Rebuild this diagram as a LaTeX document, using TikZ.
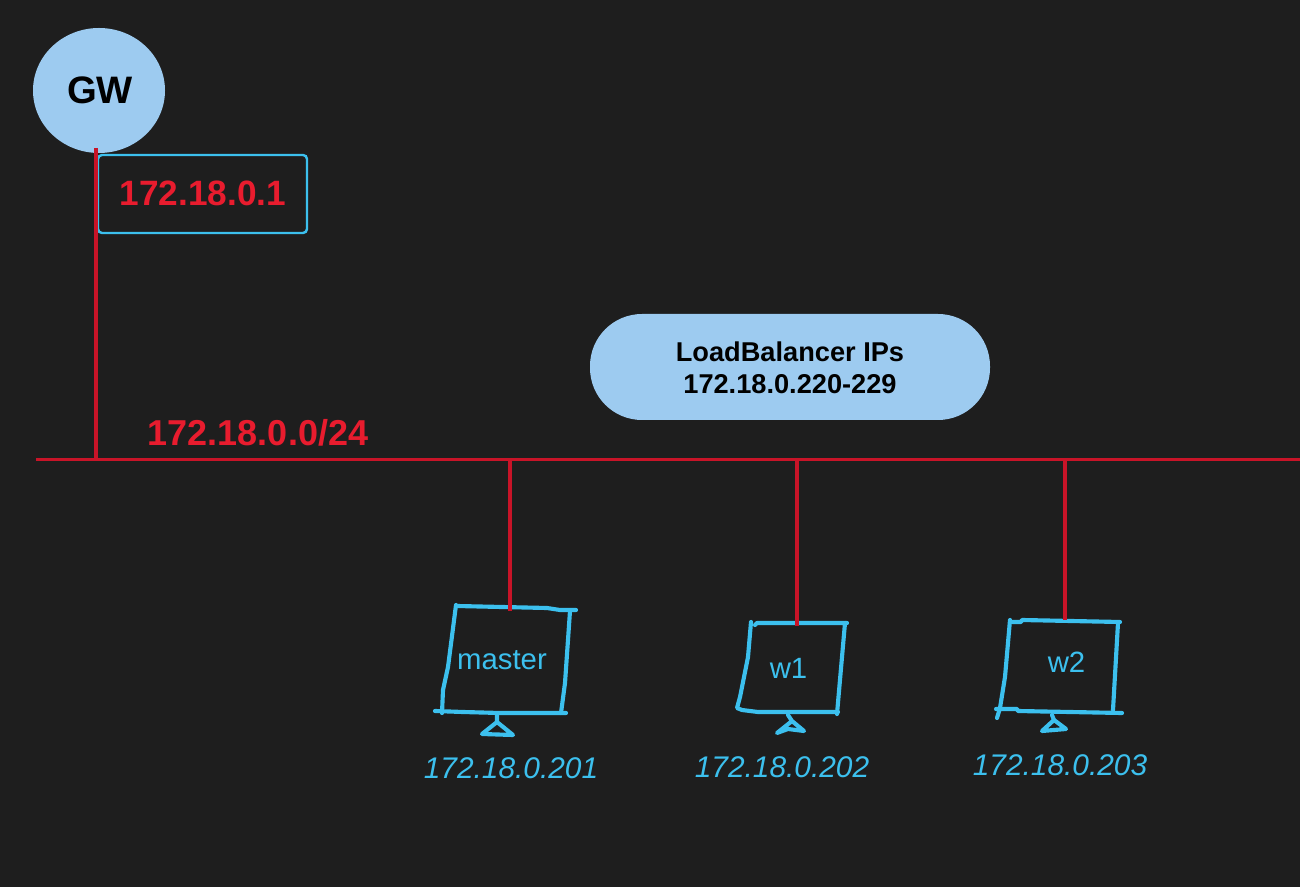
\documentclass[tikz,border=0pt]{standalone}
\usepackage{fontspec}
\setmainfont{Liberation Sans}
\usetikzlibrary{shapes.geometric}
\definecolor{bgc}{HTML}{1E1E1E}
\definecolor{netred}{HTML}{C81428}
\definecolor{txtred}{HTML}{E81C2E}
\definecolor{sky}{HTML}{3CC0EE}
\definecolor{pale}{HTML}{9DCBF0}
\tikzset{
  wire/.style={draw=netred,line width=2.1pt},
  drop/.style={draw=netred,line width=2.7pt},
  sketch/.style={draw=sky,line width=3.1pt,line cap=round,line join=round},
  pcname/.style={text=sky,font=\fontsize{22}{26}\selectfont,anchor=base,inner sep=0pt},
  ipname/.style={text=sky,font=\fontsize{22.4}{26}\selectfont\itshape,anchor=base,inner sep=0pt},
  redlabel/.style={text=txtred,font=\fontsize{27}{32}\selectfont\bfseries,anchor=base,inner sep=0pt},
}
\begin{document}
\begin{tikzpicture}[x=0.75pt,y=-0.75pt]
\useasboundingbox (0,0) rectangle (1300,887);
\fill[bgc] (0,0) rectangle (1300,887);
% gateway
\node[ellipse,fill=pale,minimum width=99pt,minimum height=93.75pt,inner sep=0pt] (gw) at (99,90.5) {};
\node[anchor=base,inner sep=0pt,font=\fontsize{28.7}{34}\selectfont\bfseries,text=black] (gwt) at (100,104) {GW};
% address box
\draw[draw=sky,line width=1.8pt,rounded corners=3pt] (98,155) rectangle (307,233);
\node[redlabel,font=\fontsize{26.4}{32}\selectfont\bfseries] (gwip) at (203,206) {172.18.0.1};
% load balancer pill
\node[fill=pale,rounded corners=39pt,minimum width=300pt,minimum height=79.5pt,inner sep=0pt] (lb) at (790,367) {};
\node[align=center,inner sep=0pt,text=black,font=\fontsize{20.4}{23.6}\selectfont\bfseries] (lbt) at (790,368) {LoadBalancer IPs\\172.18.0.220-229};
% network
\node[redlabel] (net) at (258,446) {172.18.0.0/24};
\coordinate (busL) at (36,459.5);
\coordinate (busR) at (1300,459.5);
\coordinate (tapG) at (96,459.5);
\coordinate (tapM) at (510,459.5);
\coordinate (tap1) at (797,459.5);
\coordinate (tap2) at (1065,459.5);
\coordinate (gwDrop) at (96,148);
\coordinate (mTop) at (510,611);
\coordinate (aTop) at (797,626);
\coordinate (bTop) at (1065,620);
% master monitor
\draw[sketch] (457,606) -- (547,608) -- (560,610) -- (576,610);
\draw[sketch] (456,605) -- (448,667) -- (443,690) -- (442,713);
\draw[sketch] (570,611) -- (565,683) -- (561,713);
\draw[sketch] (435,711) -- (463,712) -- (500,713) -- (566,713);
\draw[sketch] (497,714) -- (497,722) -- (482,734) -- (513,735) -- (497,722);
% w1 monitor
\draw[sketch] (755,625) -- (757,623) -- (847,623);
\draw[sketch] (751,622) -- (748,657) -- (740,697) -- (737,708) -- (742,710) -- (758,712) -- (838,712);
\draw[sketch] (845,623) -- (842,657) -- (837,714);
\draw[sketch] (788,715) -- (792,721) -- (777,733) -- (788,729) -- (804,731) -- (792,721);
% w2 monitor
\draw[sketch] (1012,622) -- (1021,622) -- (1022,620) -- (1120,622);
\draw[sketch] (1010,620) -- (1005,677) -- (1000,708) -- (997,718);
\draw[sketch] (1118,623) -- (1113,710);
\draw[sketch] (996,709) -- (1017,709) -- (1018,711) -- (1122,713);
\draw[sketch] (1052,715) -- (1054,720) -- (1042,731) -- (1066,729) -- (1054,720);
% wires
\draw[wire] (busL) -- (busR);
\draw[drop] (gwDrop) -- (tapG);
\draw[drop] (tapM) -- (mTop);
\draw[drop] (tap1) -- (aTop);
\draw[drop] (tap2) -- (bTop);
% labels
\node[pcname] (mt) at (502,669) {master};
\node[pcname] (at) at (788.5,678) {w1};
\node[pcname] (bt) at (1066.5,672.5) {w2};
\node[ipname] (mip) at (511,778) {172.18.0.201};
\node[ipname] (aip) at (782,777) {172.18.0.202};
\node[ipname] (bip) at (1060,775) {172.18.0.203};
\end{tikzpicture}
\end{document}
